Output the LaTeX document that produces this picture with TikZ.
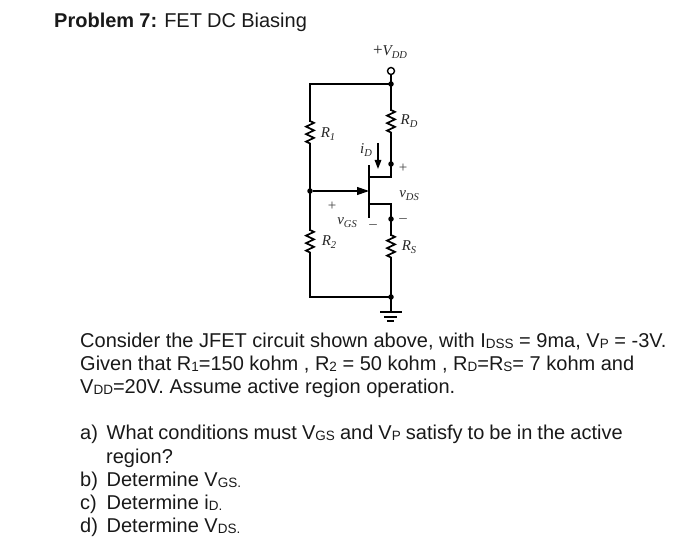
\documentclass[tikz,border=0pt]{standalone}
\usepackage{fontspec}
\setmainfont{Liberation Sans}
\newfontfamily\serf{Liberation Serif}
\usetikzlibrary{decorations.pathmorphing,arrows.meta}
\newcommand{\sbs}[1]{\raisebox{-1.5pt}{\fontsize{13.5}{13.5}\selectfont #1}}
\newcommand{\cirl}[2]{{\serf\itshape #1\raisebox{-3pt}{\fontsize{10.5}{10.5}\selectfont #2}}}
\newcommand{\qlab}[1]{\makebox[26.5pt][l]{#1}}
\tikzset{
  wire/.style={line width=1.7pt,line cap=rect},
  res/.style={line width=1.7pt,decorate,decoration={zigzag,segment length=7.5pt,amplitude=4pt}},
  jdot/.style={circle,fill=black,inner sep=0pt,minimum size=5.5pt},
  term/.style={circle,draw=black,fill=white,line width=1.4pt,inner sep=0pt,minimum size=7pt},
  body/.style={anchor=base west,inner sep=0pt,font=\fontsize{20}{24}\selectfont,text=black!90},
  lab/.style={inner sep=0pt,font=\fontsize{15}{15}\selectfont,text=black!85},
  sym/.style={inner sep=0pt,font=\serf\fontsize{15}{15}\selectfont,text=black!75},
  arr/.style={line width=1.5pt,-{Triangle[length=9pt,width=6.5pt]}},
  gnd/.style={line width=1.4pt}
}
\begin{document}
\begin{tikzpicture}[x=1pt,y=-1pt]
\useasboundingbox (0,0) rectangle (700,545);
% text
\node[body] (title) at (54,28) {\spaceskip=5.2pt\textbf{Problem 7:} FET DC Biasing};
\node[body] (l1) at (80,347) {Consider the JFET circuit shown above, with I\sbs{DSS} = 9ma, V\sbs{P} = -3V.};
\node[body] (l2) at (80,370) {Given that R\sbs{1}=150 kohm , R\sbs{2} = 50 kohm , R\sbs{D}=R\sbs{S}= 7 kohm and};
\node[body] (l3) at (80,393) {V\sbs{DD}=20V. Assume active region operation.};
\node[body] (qa) at (80,439) {\spaceskip=5.1pt\qlab{a)}What conditions must V\sbs{GS} and V\sbs{P} satisfy to be in the active};
\node[body] (qa2) at (106,463) {region?};
\node[body] (qb) at (80,486) {\qlab{b)}Determine V\sbs{GS.}};
\node[body] (qc) at (80,509) {\qlab{c)}Determine i\sbs{D.}};
\node[body] (qd) at (80,532) {\qlab{d)}Determine V\sbs{DS.}};
% circuit points
\node[term] (vdd) at (391,71) {};
\node[jdot] (top) at (391,84) {};
\coordinate (tl) at (310,84);
\coordinate (r1a) at (310,121);
\coordinate (r1b) at (310,147);
\node[jdot] (gj) at (310,191) {};
\coordinate (r2a) at (310,230);
\coordinate (r2b) at (310,256);
\coordinate (bl) at (310,297);
\node[jdot] (bot) at (391,297) {};
\coordinate (rda) at (391,110);
\coordinate (rdb) at (391,136);
\node[jdot] (dj) at (391,164) {};
\coordinate (dc) at (391,177);
\coordinate (dg) at (369,177);
\coordinate (sc) at (391,204);
\coordinate (sg) at (369,204);
\node[jdot] (sj) at (391,219) {};
\coordinate (rsa) at (391,235);
\coordinate (rsb) at (391,261);
\coordinate (gt) at (369,166);
\coordinate (gb) at (369,217);
\coordinate (gm) at (369,191);
\coordinate (gnd1) at (391,312);
\coordinate (ia) at (378,143);
\coordinate (ib) at (378,169);
% wires
\draw[wire] (vdd) -- (top) -- (tl) -- (r1a);
\draw[res] (r1a) -- (r1b);
\draw[wire] (r1b) -- (gj) -- (r2a);
\draw[res] (r2a) -- (r2b);
\draw[wire] (r2b) -- (bl) -- (bot);
\draw[wire] (top) -- (rda);
\draw[res] (rda) -- (rdb);
\draw[wire] (rdb) -- (dj) -- (dc) -- (dg);
\draw[wire] (gt) -- (gb);
\draw[wire] (sg) -- (sc) -- (sj) -- (rsa);
\draw[res] (rsa) -- (rsb);
\draw[wire] (rsb) -- (bot) -- (gnd1);
\draw[line width=1.2pt,-{Triangle[length=12pt,width=8pt]}] (gj) -- (gm);
\draw[arr] (ia) -- (ib);
% ground
\draw[gnd] (380,312) -- (402,312);
\draw[gnd] (384,317) -- (397,317);
\draw[gnd] (387,321) -- (394,321);
% labels
\node[lab] (lvdd) at (390,52) {{\serf\fontsize{17}{17}\selectfont +}\cirl{V}{DD}};
\node[lab] (lr1) at (328,134) {\cirl{R}{1}};
\node[lab] (lrd) at (409,121) {\cirl{R}{D}};
\node[lab] (lid) at (366,150) {\cirl{i}{D}};
\node[sym] (lp1) at (403,168) {+};
\node[lab] (lvds) at (409,196) {\cirl{v}{DS}};
\node[sym] (lm1) at (403,221) {–};
\node[sym] (lp2) at (332,206) {+};
\node[lab] (lvgs) at (347,223) {\cirl{v}{GS}};
\node[sym] (lm2) at (373,227) {–};
\node[lab] (lr2) at (329,242) {\cirl{R}{2}};
\node[lab] (lrs) at (409,247) {\cirl{R}{S}};
\end{tikzpicture}
\end{document}
